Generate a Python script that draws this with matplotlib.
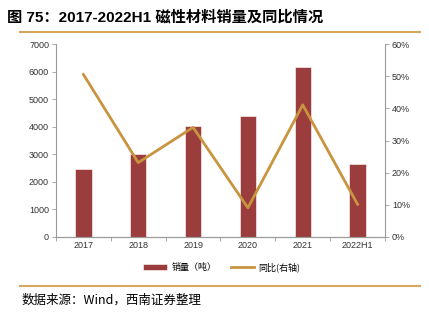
import matplotlib.pyplot as plt
import numpy as np
from matplotlib.ticker import FuncFormatter

plt.rcParams['font.family'] = ['Liberation Sans', 'Noto Sans CJK SC', 'DejaVu Sans']

# data
years = ['2017', '2018', '2019', '2020', '2021', '2022H1']
sales = [2450, 3010, 4030, 4380, 6180, 2650]       # 销量 (吨)
yoy = [50.6, 23.1, 34.1, 9.0, 41.1, 10.1]          # 同比 (%)

bar_color = '#9B3D3D'
line_color = '#C8943E'
gold = '#D6A75E'
grey = '#9A9A9A'

fig = plt.figure(figsize=(4.29, 3.23), dpi=100)
ax = fig.add_axes([56 / 429, 86.3 / 323, 329 / 429, 192.4 / 323])
ax2 = ax.twinx()

x = np.arange(len(years))
ax.bar(x, sales, width=0.3, color=bar_color, edgecolor='white', linewidth=0.4, label='销量（吨）', zorder=2)
ax2.plot(x, yoy, color=line_color, linewidth=2, label='同比(右轴)', zorder=3)

ax.set_xlim(-0.5, len(years) - 0.5)
ax.set_ylim(0, 7000)
ax.set_yticks(np.arange(0, 7001, 1000))
ax2.set_ylim(0, 60)
ax2.set_yticks(np.arange(0, 61, 10))
ax2.yaxis.set_major_formatter(FuncFormatter(lambda v, p: f'{v:.0f}%'))

# boundary ticks on x, labels centred
ax.set_xticks(np.arange(-0.5, len(years), 1))
ax.set_xticklabels([])
ax.set_xticks(x, minor=True)
ax.set_xticklabels(years, minor=True)
ax.tick_params(axis='x', which='minor', length=0, labelsize=6.5, pad=3, labelcolor='#333333')
ax.tick_params(axis='x', which='major', length=3, color=grey, width=0.6)

for a in (ax, ax2):
    a.spines['top'].set_visible(False)
    for s in ('left', 'right', 'bottom'):
        a.spines[s].set_color(grey)
        a.spines[s].set_linewidth(0.8)
    a.tick_params(axis='y', labelsize=6.5, length=3, color=grey, width=0.6, pad=2, labelcolor='#333333')
ax2.spines['left'].set_visible(False)
ax.spines['right'].set_visible(False)

# legend
h1, l1 = ax.get_legend_handles_labels()
h2, l2 = ax2.get_legend_handles_labels()
fig.legend(h1 + h2, l1 + l2, loc='center', bbox_to_anchor=(222 / 429, 56 / 323), ncol=2,
           frameon=False, handlelength=2.6, handletextpad=0.5, columnspacing=1.6,
           prop={'family': ['Noto Sans CJK SC'], 'size': 6.5})

# title and decorations
fig.text(7 / 429, 1 - 17 / 323, '图 75：2017-2022H1 磁性材料销量及同比情况',
         fontsize=11, fontweight='bold', va='center', ha='left',
         family=['Liberation Sans', 'Noto Sans CJK SC'])
fig.add_artist(plt.Line2D([20 / 429, 420 / 429], [1 - 32 / 323] * 2, color=gold, linewidth=1.5))
fig.add_artist(plt.Line2D([20 / 429, 420 / 429], [1 - 286 / 323] * 2, color=gold, linewidth=1.5))
fig.text(22 / 429, 1 - 300 / 323, '数据来源：Wind，西南证券整理', fontsize=9, style='italic',
         va='center', ha='left', family=['Noto Sans CJK SC', 'DejaVu Sans'])

fig.savefig('out.png', dpi=100)
